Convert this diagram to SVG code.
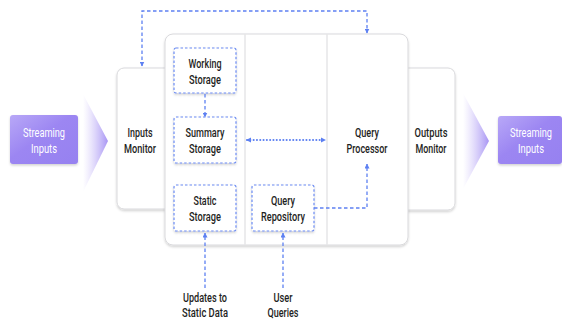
<svg xmlns="http://www.w3.org/2000/svg" width="562" height="320" viewBox="0 0 562 320">
  <defs>
    <style>
      text { font-family: Roboto, "Liberation Sans", sans-serif; font-size: 12px; font-weight: 500; fill: #1e1e22; text-anchor: middle; }
      .light { fill: #ffffff; font-weight: 400; }
      .panel { fill: #ffffff; stroke: #d9d9dc; stroke-width: 1; }
      .divider { stroke: #d9d9dc; stroke-width: 1; }
      .store { fill: #ffffff; stroke: #6a8af2; stroke-width: 1.2; stroke-dasharray: 2.5 2; }
      .link { fill: none; stroke: #5d80f2; stroke-width: 1.3; stroke-dasharray: 3.5 2.5; }
      .dots { fill: none; stroke: #5d80f2; stroke-width: 2; stroke-dasharray: 0.1 3.2; stroke-linecap: round; }
    </style>
    <marker id="arrow" viewBox="0 0 10 10" refX="9" refY="5" markerWidth="5" markerHeight="5" markerUnits="userSpaceOnUse" orient="auto-start-reverse">
      <path d="M0,0 L10,5 L0,10 z" fill="#5d80f2"/>
    </marker>
    <linearGradient id="stream" x1="0" y1="0" x2="1" y2="1">
      <stop offset="0" stop-color="#b8a8f7"/>
      <stop offset="0.45" stop-color="#9c86f2"/>
      <stop offset="1" stop-color="#9681f0"/>
    </linearGradient>
    <linearGradient id="chev" x1="0" y1="0" x2="1" y2="0">
      <stop offset="0" stop-color="#c9bcf8" stop-opacity="0"/>
      <stop offset="1" stop-color="#a895f4" stop-opacity="1"/>
    </linearGradient>
    <filter id="shadow" x="-10%" y="-10%" width="120%" height="130%">
      <feDropShadow dx="0" dy="1.5" stdDeviation="1" flood-color="#000" flood-opacity="0.18"/>
    </filter>
  </defs>

  <!-- incoming stream -->
  <g id="stream-in">
    <rect x="10" y="115" width="68" height="49" rx="3" fill="url(#stream)" filter="url(#shadow)"/>
    <text class="light" x="44" y="137" textLength="42" lengthAdjust="spacingAndGlyphs">Streaming</text>
    <text class="light" x="44" y="153" textLength="26" lengthAdjust="spacingAndGlyphs">Inputs</text>
  </g>
  <polygon id="chevron-in" points="83,94 108,141 83,192" fill="url(#chev)"/>

  <!-- monitors sit behind the main engine panel -->
  <g id="inputs-monitor">
    <rect class="panel" x="117" y="68" width="80" height="141" rx="7" filter="url(#shadow)"/>
    <text x="140" y="137" textLength="25" lengthAdjust="spacingAndGlyphs">Inputs</text>
    <text x="140" y="153" textLength="32" lengthAdjust="spacingAndGlyphs">Monitor</text>
  </g>
  <g id="outputs-monitor">
    <rect class="panel" x="380" y="68" width="75" height="142" rx="7" filter="url(#shadow)"/>
    <text x="431" y="137" textLength="33" lengthAdjust="spacingAndGlyphs">Outputs</text>
    <text x="431" y="153" textLength="31" lengthAdjust="spacingAndGlyphs">Monitor</text>
  </g>

  <!-- main engine panel with three columns -->
  <g id="engine">
    <rect class="panel" x="165" y="34" width="243" height="211" rx="8" filter="url(#shadow)"/>
    <line class="divider" x1="245" y1="34.5" x2="245" y2="244.5"/>
    <line class="divider" x1="327" y1="34.5" x2="327" y2="244.5"/>
  </g>

  <g id="query-processor">
    <text x="367" y="137" textLength="24" lengthAdjust="spacingAndGlyphs">Query</text>
    <text x="367" y="153" textLength="41" lengthAdjust="spacingAndGlyphs">Processor</text>
  </g>

  <g id="working-storage">
    <rect class="store" x="174" y="48" width="62" height="45" rx="2" filter="url(#shadow)"/>
    <text x="205" y="68" textLength="33" lengthAdjust="spacingAndGlyphs">Working</text>
    <text x="205" y="84" textLength="32" lengthAdjust="spacingAndGlyphs">Storage</text>
  </g>
  <g id="summary-storage">
    <rect class="store" x="174" y="117" width="62" height="46" rx="2" filter="url(#shadow)"/>
    <text x="205" y="137" textLength="39" lengthAdjust="spacingAndGlyphs">Summary</text>
    <text x="205" y="153" textLength="32" lengthAdjust="spacingAndGlyphs">Storage</text>
  </g>
  <g id="static-storage">
    <rect class="store" x="174" y="185" width="62" height="46" rx="2" filter="url(#shadow)"/>
    <text x="205" y="205" textLength="23" lengthAdjust="spacingAndGlyphs">Static</text>
    <text x="205" y="221" textLength="32" lengthAdjust="spacingAndGlyphs">Storage</text>
  </g>
  <g id="query-repository">
    <rect class="store" x="252" y="185" width="62" height="46" rx="2" filter="url(#shadow)"/>
    <text x="283" y="205" textLength="24" lengthAdjust="spacingAndGlyphs">Query</text>
    <text x="283" y="221" textLength="44" lengthAdjust="spacingAndGlyphs">Repository</text>
  </g>

  <!-- outgoing stream -->
  <polygon id="chevron-out" points="463,93 489,141 463,189" fill="url(#chev)"/>
  <g id="stream-out">
    <rect x="498" y="116" width="64" height="48" rx="3" fill="url(#stream)" filter="url(#shadow)"/>
    <text class="light" x="531" y="137" textLength="42" lengthAdjust="spacingAndGlyphs">Streaming</text>
    <text class="light" x="531" y="153" textLength="26" lengthAdjust="spacingAndGlyphs">Inputs</text>
  </g>

  <!-- external sources -->
  <g id="static-updates">
    <text x="205" y="302" textLength="44" lengthAdjust="spacingAndGlyphs">Updates to</text>
    <text x="205" y="317" textLength="46" lengthAdjust="spacingAndGlyphs">Static Data</text>
  </g>
  <g id="user-queries">
    <text x="283" y="302" textLength="19" lengthAdjust="spacingAndGlyphs">User</text>
    <text x="283" y="317" textLength="31" lengthAdjust="spacingAndGlyphs">Queries</text>
  </g>

  <!-- connectors -->
  <g id="connectors">
    <path class="link" d="M142,66 V11 H367 V33" marker-start="url(#arrow)" marker-end="url(#arrow)"/>
    <path class="link" d="M205,94 V117" marker-end="url(#arrow)"/>
    <path class="dots" d="M247,140 H325"/>
    <path d="M246,140 l5,-2.5 v5 z M326,140 l-5,-2.5 v5 z" fill="#5d80f2"/>
    <path class="link" d="M314,208 H367 V164" marker-end="url(#arrow)"/>
    <path class="link" d="M205,288 V233" marker-end="url(#arrow)"/>
    <path class="link" d="M283,288 V233" marker-end="url(#arrow)"/>
  </g>
</svg>
